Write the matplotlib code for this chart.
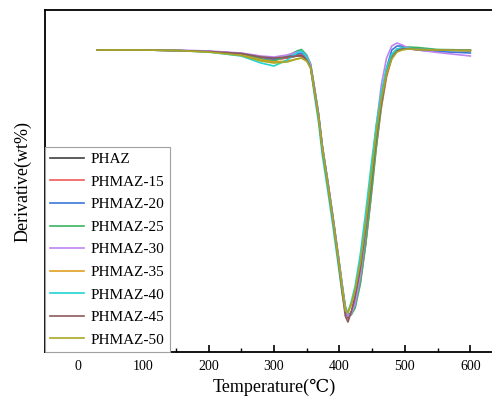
import matplotlib
matplotlib.use("Agg")
import matplotlib.pyplot as plt
from matplotlib.ticker import MultipleLocator

plt.rcParams["font.family"] = ["Liberation Serif", "DejaVu Serif"]

# temperature grid (°C) shared by all curves
temps = [30, 100, 150, 200, 250, 280, 300, 320, 335, 342, 350, 356, 362, 368, 374, 382,
         390, 398, 404, 409, 413, 418, 424, 432, 440, 448, 456, 464, 472, 480, 488, 496,
         505, 520, 550, 600]

# derivative curves (arbitrary units)
phaz = [0, 0, -0.005, -0.015, -0.035, -0.07, -0.09, -0.08, -0.06, -0.05, -0.09, -0.17,
        -0.41, -0.66, -0.99, -1.33, -1.69, -2.07, -2.37, -2.60, -2.68, -2.63, -2.50, -2.22,
        -1.83, -1.38, -0.90, -0.53, -0.24, -0.07, 0, 0.01, 0.01, 0.005, 0, -0.005]
phmaz_15 = [0, 0, -0.005, -0.015, -0.04, -0.08, -0.10, -0.08, -0.05, -0.04, -0.08, -0.16,
            -0.40, -0.65, -0.98, -1.32, -1.68, -2.06, -2.37, -2.59, -2.67, -2.64, -2.56, -2.32,
            -1.95, -1.50, -1.00, -0.58, -0.27, -0.08, 0, 0.02, 0.02, 0.01, 0, -0.005]
phmaz_20 = [0, 0, -0.005, -0.015, -0.035, -0.07, -0.09, -0.07, -0.04, -0.03, -0.07, -0.15,
            -0.39, -0.64, -0.97, -1.31, -1.67, -2.05, -2.35, -2.58, -2.66, -2.62, -2.52, -2.26,
            -1.86, -1.40, -0.92, -0.50, -0.18, 0, 0.04, 0.04, 0.02, 0, -0.015, -0.03]
phmaz_25 = [0, 0, -0.005, -0.015, -0.04, -0.09, -0.11, -0.06, -0.01, 0.005, -0.05, -0.14,
            -0.38, -0.63, -0.96, -1.30, -1.66, -2.04, -2.33, -2.56, -2.64, -2.65, -2.58, -2.34,
            -1.95, -1.48, -0.98, -0.55, -0.24, -0.06, 0.01, 0.02, 0.03, 0.025, 0.005, 0]
phmaz_30 = [0, 0, 0, -0.01, -0.03, -0.06, -0.07, -0.05, -0.02, -0.015, -0.06, -0.15,
            -0.39, -0.64, -0.97, -1.31, -1.67, -2.05, -2.35, -2.58, -2.66, -2.64, -2.54, -2.26,
            -1.82, -1.30, -0.78, -0.35, -0.08, 0.04, 0.07, 0.05, 0.02, 0, -0.025, -0.06]
phmaz_35 = [0, 0, -0.005, -0.02, -0.05, -0.10, -0.12, -0.11, -0.09, -0.08, -0.11, -0.18,
            -0.42, -0.67, -1.00, -1.34, -1.70, -2.08, -2.38, -2.61, -2.63, -2.55, -2.40, -2.10,
            -1.72, -1.28, -0.82, -0.47, -0.22, -0.08, -0.01, 0.01, 0.01, 0.005, 0, -0.005]
phmaz_40 = [0, 0, -0.005, -0.02, -0.06, -0.13, -0.16, -0.10, -0.03, -0.01, -0.07, -0.18,
            -0.46, -0.72, -1.06, -1.40, -1.76, -2.14, -2.43, -2.61, -2.62, -2.52, -2.36, -2.04,
            -1.63, -1.18, -0.76, -0.42, -0.18, -0.04, 0.01, 0.02, 0.015, 0.01, 0, -0.005]
phmaz_45 = [0, 0, -0.005, -0.015, -0.035, -0.07, -0.08, -0.07, -0.06, -0.06, -0.10, -0.18,
            -0.42, -0.67, -1.00, -1.34, -1.70, -2.09, -2.41, -2.66, -2.72, -2.62, -2.46, -2.18,
            -1.79, -1.35, -0.88, -0.52, -0.24, -0.08, -0.01, 0.01, 0.01, 0.005, 0, -0.005]
phmaz_50 = [0, 0, -0.005, -0.02, -0.055, -0.11, -0.13, -0.12, -0.09, -0.08, -0.11, -0.18,
            -0.42, -0.67, -1.00, -1.34, -1.70, -2.08, -2.38, -2.61, -2.62, -2.54, -2.40, -2.12,
            -1.74, -1.30, -0.84, -0.49, -0.24, -0.09, -0.02, 0, 0.01, 0.005, 0, -0.005]

labels = ["PHAZ", "PHMAZ-15", "PHMAZ-20", "PHMAZ-25", "PHMAZ-30",
          "PHMAZ-35", "PHMAZ-40", "PHMAZ-45", "PHMAZ-50"]
series = [phaz, phmaz_15, phmaz_20, phmaz_25, phmaz_30,
          phmaz_35, phmaz_40, phmaz_45, phmaz_50]
colors = ["#404040", "#f05a5a", "#3a78d8", "#3cb464", "#c084f0",
          "#e0a020", "#20d4d4", "#8c5a5a", "#a8a828"]

fig = plt.figure(figsize=(4.92, 4.0), dpi=100)
ax = fig.add_axes([45 / 492, 48 / 400, 458 / 492, 342 / 400])

for vals, lab, col in zip(series, labels, colors):
    ax.plot(temps, vals, color=col, lw=1.2, label=lab)

ax.set_xlim(-50, 650)
ax.set_ylim(-3.02, 0.40)
ax.xaxis.set_major_locator(MultipleLocator(100))
ax.xaxis.set_minor_locator(MultipleLocator(50))
ax.set_yticks([])
ax.tick_params(axis="x", which="major", direction="in", length=5, width=1.2, labelsize=10, pad=6)
ax.tick_params(axis="x", which="minor", direction="in", length=3, width=1.0)
for sp in ax.spines.values():
    sp.set_linewidth(1.3)

ax.set_xlabel("Temperature(\u2103)", fontsize=13, labelpad=4)
ax.set_ylabel("Derivative(wt%)", fontsize=13, labelpad=10)

leg = ax.legend(loc="lower left", fontsize=11, frameon=True, fancybox=False,
                edgecolor="#a0a0a0", framealpha=1, borderaxespad=0,
                handlelength=2.2, handletextpad=0.45, borderpad=0.35, labelspacing=0.58)
leg.get_frame().set_linewidth(0.8)

fig.savefig("out.png", dpi=100)
